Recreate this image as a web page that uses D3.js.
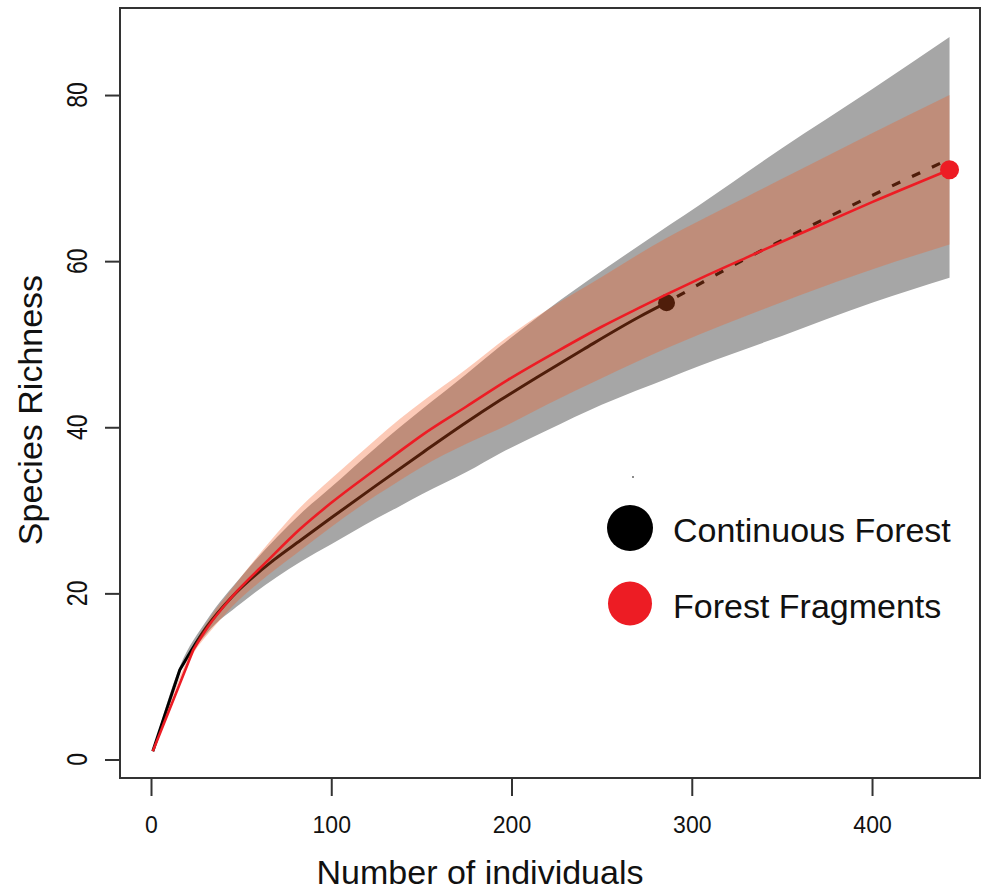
<!DOCTYPE html>
<html>
<head>
<meta charset="utf-8">
<script src="https://cdn.jsdelivr.net/npm/d3@7"></script>
<style>
  body { margin: 0; background: #fff; }
  text { font-family: "Liberation Sans", Arial, sans-serif; fill: #111; }
</style>
</head>
<body>
<div id="chart"></div>
<script>
// species accumulation data
var seriesNames = ["Continuous Forest", "Forest Fragments"];
var seriesColors = ["#000000", "#ed1c24"];

// continuous forest, observed (rarefaction) part
var cfN = [1, 16, 31, 45, 68, 83, 100, 125, 151, 175, 194, 214, 240, 271, 286];
var cfS = [1, 10.8, 16.0, 19.6, 24.0, 26.4, 29.1, 33.0, 37.0, 40.6, 43.3, 46.0, 49.4, 53.3, 55.0];
// continuous forest, extrapolated part
var cfExtN = [286, 308, 330, 360, 400, 443];
var cfExtS = [55.0, 57.7, 60.3, 63.6, 67.9, 72.3];
// continuous forest confidence band
var cfBandN = [1, 16, 31, 50, 83, 100, 125, 138, 150, 175, 194, 219.5, 250, 288, 304.5, 350, 400, 443];
var cfLower = [1, 10.4, 15.2, 18.8, 23.8, 25.9, 29.0, 30.5, 31.9, 34.6, 36.9, 39.6, 42.7, 46.0, 47.4, 51.0, 55.0, 58.0];
var cfUpper = [1, 11.2, 16.8, 22.0, 29.6, 32.8, 37.6, 40.0, 42.1, 46.4, 49.8, 54.1, 58.8, 64.4, 66.8, 73.6, 80.7, 87.0];

// forest fragments
var ffN = [1, 23.5, 31.7, 45, 65, 83, 100, 125, 138, 150, 175, 198, 225, 250, 271, 286, 304.5, 330, 360, 400, 443];
var ffS = [1, 13.2, 16.0, 19.6, 24.0, 27.8, 30.9, 35.0, 37.1, 39.0, 42.5, 45.7, 49.1, 52.1, 54.4, 56.0, 57.9, 60.4, 63.3, 67.1, 71.0];
var ffBandN = [1, 23.5, 32, 45, 65, 83, 100, 125, 138, 150, 175, 198, 219.5, 250, 286, 304.5, 330, 360, 400, 443];
var ffLower = [1, 12.8, 15.2, 18.4, 22.2, 25.2, 28.0, 31.8, 33.6, 35.2, 38.0, 40.3, 42.7, 45.9, 49.5, 51.2, 53.4, 55.9, 59.0, 62.0];
var ffUpper = [1, 13.6, 16.8, 20.6, 26.0, 30.4, 33.8, 38.6, 41.0, 43.0, 47.0, 50.9, 54.1, 58.1, 62.8, 64.9, 67.7, 71.0, 75.4, 80.0];

var xTicks = [0, 100, 200, 300, 400];
var yTicks = [0, 20, 40, 60, 80];

var width = 984, height = 892;
var box = {left: 120, top: 8, right: 980, bottom: 778};

var svg = d3.select("#chart").append("svg")
  .attr("width", width).attr("height", height);

var x = d3.scaleLinear().domain([-17.2, 459.9]).range([box.left, box.right]);
var y = d3.scaleLinear().domain([-2.23, 90.48]).range([box.bottom, box.top]);

function zip(ns, a, b) {
  return ns.map(function(n, i) { return {n: n, lo: a[i], hi: b ? b[i] : null}; });
}

var band = d3.area()
  .curve(d3.curveMonotoneX)
  .x(function(d) { return x(d.n); })
  .y0(function(d) { return y(d.lo); })
  .y1(function(d) { return y(d.hi); });

var lineSmooth = d3.line()
  .curve(d3.curveMonotoneX)
  .x(function(d) { return x(d.n); })
  .y(function(d) { return y(d.lo); });
var lineStraight = d3.line()
  .x(function(d) { return x(d.n); })
  .y(function(d) { return y(d.lo); });

// first knot is a straight segment (visible kink), the rest smooth
function curvePath(pts) {
  return lineStraight(pts.slice(0, 2)) + lineSmooth(pts.slice(1)).replace(/^M/, "L");
}

var plot = svg.append("g");

// continuous forest band + line
plot.append("path").datum(zip(cfBandN, cfLower, cfUpper))
  .attr("d", band).attr("fill", "#a6a6a6");
plot.append("path").datum(zip(cfN, cfS))
  .attr("d", curvePath).attr("fill", "none")
  .attr("stroke", "#000").attr("stroke-width", 3).attr("stroke-linejoin", "round");
plot.append("path").datum(zip(cfExtN, cfExtS))
  .attr("d", lineSmooth).attr("fill", "none")
  .attr("stroke", "#000").attr("stroke-width", 3.2)
  .attr("stroke-dasharray", "9,13").attr("stroke-dashoffset", -12);
plot.append("circle")
  .attr("cx", x(cfN[cfN.length - 1])).attr("cy", y(cfS[cfS.length - 1]))
  .attr("r", 8.5).attr("fill", "#000");

// forest fragments band (translucent) + line
plot.append("path").datum(zip(ffBandN, ffLower, ffUpper))
  .attr("d", band).attr("fill", "rgb(245,90,30)").attr("fill-opacity", 0.32);
plot.append("path").datum(zip(ffN, ffS))
  .attr("d", curvePath).attr("fill", "none")
  .attr("stroke", seriesColors[1]).attr("stroke-width", 2.6).attr("stroke-linejoin", "round");
plot.append("circle")
  .attr("cx", x(ffN[ffN.length - 1])).attr("cy", y(ffS[ffS.length - 1]))
  .attr("r", 9.5).attr("fill", seriesColors[1]);

// frame
svg.append("rect")
  .attr("x", box.left).attr("y", box.top)
  .attr("width", box.right - box.left).attr("height", box.bottom - box.top)
  .attr("fill", "none").attr("stroke", "#333").attr("stroke-width", 2);

// x axis
var xAxis = svg.append("g").attr("transform", "translate(0," + box.bottom + ")")
  .call(d3.axisBottom(x).tickValues(xTicks).tickSize(18).tickPadding(0).tickFormat(d3.format("d")));
xAxis.select(".domain").remove();
xAxis.selectAll("line").attr("stroke", "#333").attr("stroke-width", 2);
xAxis.selectAll("text").attr("font-size", 23).attr("dy", null).attr("y", 55)
  .attr("fill", "#111").attr("font-family", "Liberation Sans, Arial, sans-serif");

// y axis, R-style rotated labels
var yAxis = svg.append("g").attr("transform", "translate(" + box.left + ",0)")
  .call(d3.axisLeft(y).tickValues(yTicks).tickSize(15).tickFormat(""));
yAxis.select(".domain").remove();
yAxis.selectAll("line").attr("stroke", "#333").attr("stroke-width", 2);
svg.append("g").selectAll("text").data(yTicks).enter().append("text")
  .attr("transform", function(d) { return "translate(87," + y(d) + ") rotate(-90) scale(1,1.25)"; })
  .attr("text-anchor", "middle").attr("font-size", 23)
  .text(function(d) { return d; });

// axis titles
svg.append("text")
  .attr("x", 480).attr("y", 884)
  .attr("text-anchor", "middle").attr("font-size", 34)
  .text("Number of individuals");
svg.append("text")
  .attr("transform", "translate(42,410) rotate(-90)")
  .attr("text-anchor", "middle").attr("font-size", 34)
  .text("Species Richness");

// legend
var legend = svg.append("g");
legend.append("circle").attr("cx", 633).attr("cy", 477).attr("r", 1).attr("fill", "#666");
var items = legend.selectAll("g.item").data(seriesNames).enter().append("g")
  .attr("transform", function(d, i) { return "translate(630," + (528 + i * 75.5) + ")"; });
items.append("circle").attr("r", function(d, i) { return i === 0 ? 23 : 22; })
  .attr("fill", function(d, i) { return seriesColors[i]; });
items.append("text").attr("x", 43).attr("y", 14).attr("font-size", 34)
  .text(function(d) { return d; });
</script>
</body>
</html>
